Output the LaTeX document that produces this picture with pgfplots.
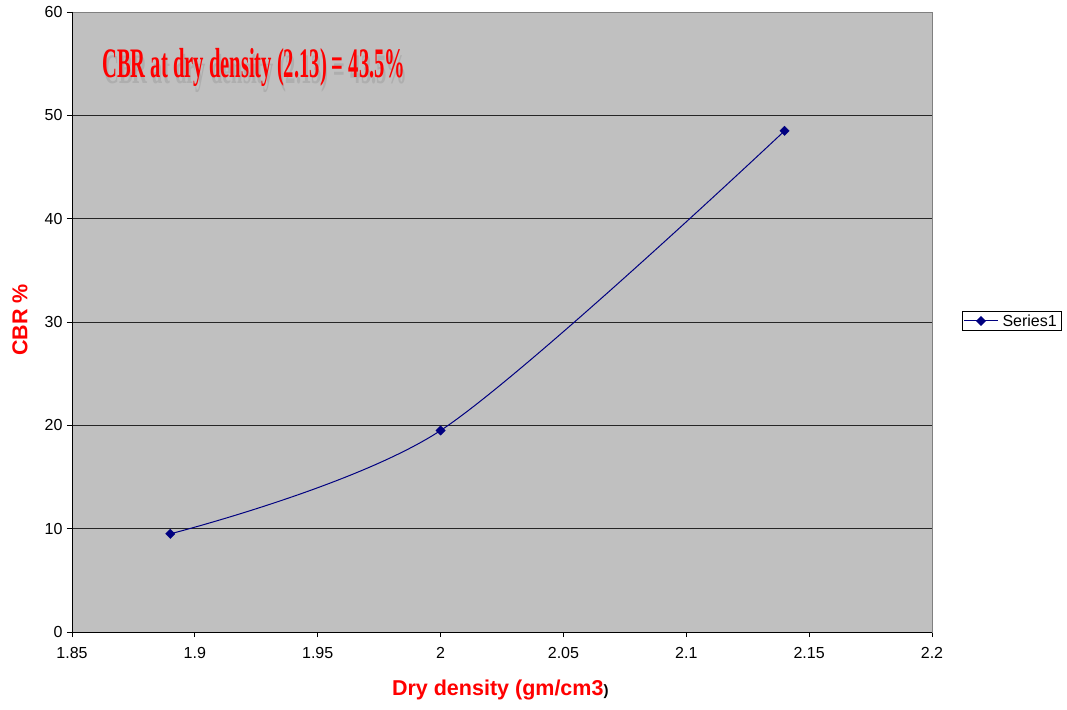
\documentclass[border=0pt]{standalone}
\usepackage{pgfplots}
\pgfplotsset{compat=1.18}
\usepackage{fontspec}
\setmainfont{Liberation Sans}
\newfontfamily\timesfont{Liberation Serif}
\definecolor{plotgray}{HTML}{C0C0C0}
\definecolor{navy}{HTML}{000080}
\definecolor{shadowgray}{HTML}{AEAEAE}
\begin{document}
\begin{tikzpicture}[x=1pt,y=1pt]
\useasboundingbox (-72,-77) rectangle (995,632);
\begin{axis}[at={(0,0)},anchor=south west, scale only axis, width=860pt, height=620pt,
  xmin=1.85, xmax=2.2, ymin=0, ymax=60,
  xtick={1.85,1.9,1.95,2,2.05,2.1,2.15,2.2},
  ytick={0,10,20,30,40,50,60},
  extra y ticks={10,20,30,40,50},
  extra y tick labels={},
  extra y tick style={grid=major, major tick length=0pt},
  grid style={black!85, line width=0.8pt},
  axis background/.style={fill=plotgray},
  axis line style={draw=black!50, line width=0.8pt},
  tick align=outside, tick pos=left, major tick length=5pt,
  tick style={black, line width=0.8pt},
  ticklabel style={font=\fontsize{16}{19}\selectfont},
  /pgf/number format/assume math mode=true,
  xticklabel style={yshift=-7pt},
  yticklabel style={xshift=-1pt},
  xlabel={\textcolor{red}{\bfseries Dry density (gm/cm3}{\fontsize{15}{17}\selectfont\bfseries )}},
  ylabel={\bfseries CBR \%},
  xlabel style={at={(axis description cs:0.498,-0.0935)}, anchor=center, font=\fontsize{21.5}{24}\selectfont},
  ylabel style={at={(axis description cs:-0.0605,0.503)}, anchor=center, font=\fontsize{21.5}{24}\selectfont, text=red},
  legend style={at={(axis description cs:1.035,0.5177)}, anchor=north west, draw=black, fill=white,
    font=\fontsize{16}{19}\selectfont, inner sep=1pt, line width=0.8pt, nodes={inner xsep=4pt}},
  legend image code/.code={\draw[mark repeat=2,mark phase=2] plot coordinates {(0pt,0pt) (17pt,0pt) (34pt,0pt)};},
]
\addplot[navy, line width=1pt, smooth, mark=square*, mark size=3.3pt, mark options={fill=navy, line width=0.4pt, rotate=45}] coordinates {
  (1.89, 9.5) (2.0, 19.5) (2.14, 48.5)
};
\addlegendentry{Series1}
\draw[black, line width=0.8pt] (rel axis cs:0,1) -- (rel axis cs:0,0) -- (rel axis cs:1,0);
\end{axis}
\node[anchor=base west, text=shadowgray, inner sep=0pt] at (32,548) {\scalebox{0.49}[1]{\timesfont\bfseries\fontsize{42}{42}\selectfont CBR at dry density (2.13) = 43.5\%}};
\node[anchor=base west, text=red, inner sep=0pt] at (30,554) {\scalebox{0.49}[1]{\timesfont\bfseries\fontsize{42}{42}\selectfont CBR at dry density (2.13) = 43.5\%}};
\end{tikzpicture}
\end{document}
